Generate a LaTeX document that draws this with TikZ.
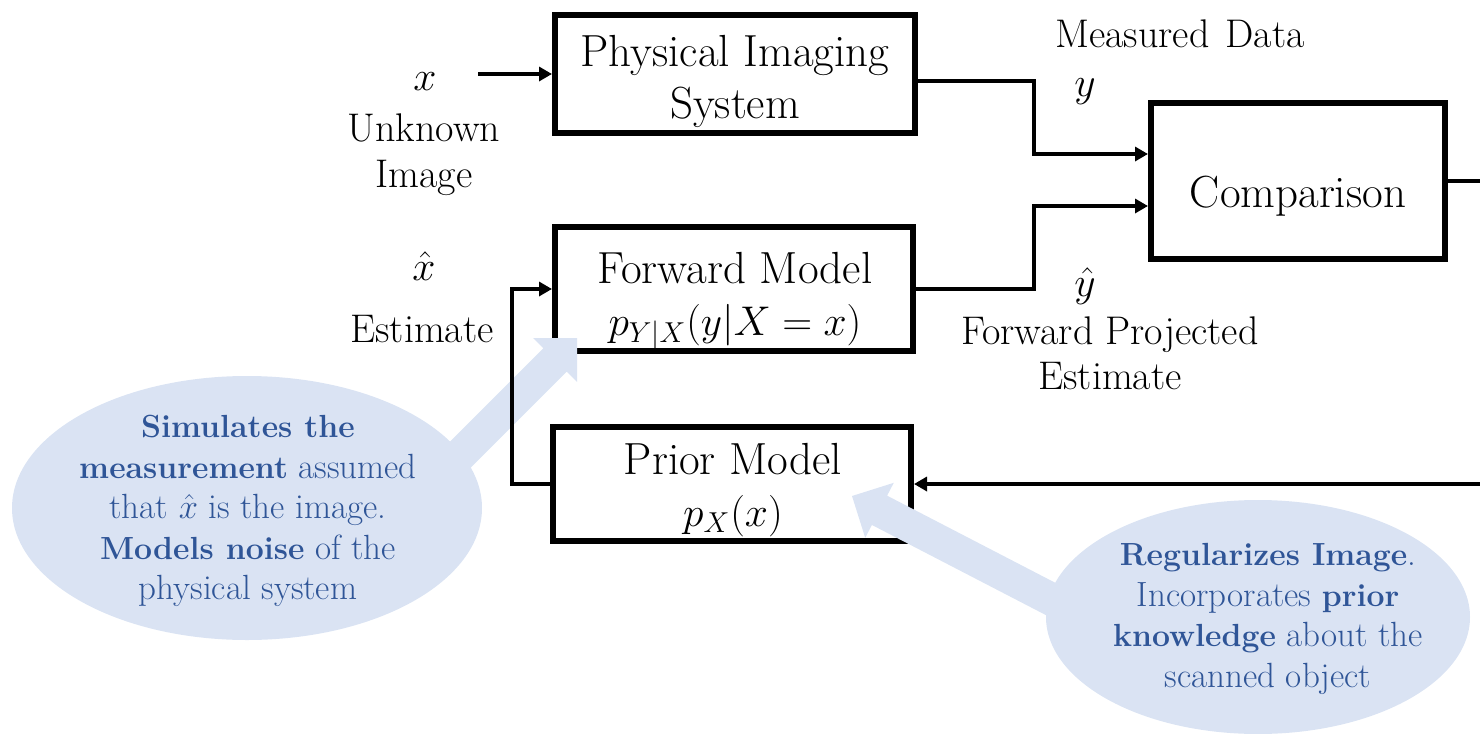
\documentclass[tikz,border=0pt]{standalone}
\usepackage{fontspec}
\usetikzlibrary{arrows.meta,shapes.geometric}
\definecolor{calloutfill}{HTML}{DAE3F3}
\definecolor{callouttext}{HTML}{2F5597}
\newcommand\myboxfont{\fontsize{22.5}{26}\selectfont}
\newcommand\mylblfont{\fontsize{20}{26}\selectfont}
\newcommand\mycallfont{\fontsize{17.5}{20.25}\selectfont}
\newcommand\cbold[1]{{\fontsize{16}{20.25}\selectfont\bfseries #1}}
\tikzset{
  boxshape/.style={draw, line width=3pt, inner sep=0pt},
  boxtext/.style={align=center, font=\myboxfont, inner sep=0pt},
  conn/.style={line width=2.25pt, -{Triangle[length=6.5pt,width=7pt]}},
  plainline/.style={line width=2.25pt},
  lbl/.style={font=\mylblfont, inner sep=0pt, anchor=base},
  callout/.style={fill=calloutfill, draw=none, ellipse, inner sep=0pt},
  ctext/.style={text=callouttext, font=\mycallfont, align=center, inner sep=0pt},
}
\begin{document}
\begin{tikzpicture}[x=0.5pt,y=-0.5pt]
\useasboundingbox (0,0) rectangle (1480,734);
\clip (0,0) rectangle (1480,734);
% boxes
\node[boxshape, minimum width=180pt, minimum height=59pt] (phys) at (735,74) {};
\node[boxshape, minimum width=179pt, minimum height=62pt] (fwd) at (734,289) {};
\node[boxshape, minimum width=179pt, minimum height=57pt] (prior) at (732,484) {};
\node[boxshape, minimum width=147pt, minimum height=78pt] (comp) at (1298,181) {};
\node[boxtext] (physT) at (735,81) {Physical Imaging\\System};
\node[boxtext] (fwdT) at (735,301) {Forward Model\\$p_{Y|X}(y|X=x)$};
\node[boxtext] (priorT) at (733,490) {Prior Model\\$p_X(x)$};
\node[boxtext] (compT) at (1298,196) {Comparison};
% labels
\node[lbl] (xl) at (425,90) {$x$};
\node[lbl] (unk) at (424,141) {Unknown};
\node[lbl] (img) at (424,187) {Image};
\node[lbl] (xh) at (424,280) {$\hat{x}$};
\node[lbl] (est) at (422,342) {Estimate};
\node[lbl] (meas) at (1180,47) {Measured\hspace{0.4em}Data};
\node[lbl] (yl) at (1085,96) {$y$};
\node[lbl] (yh) at (1085,296) {$\hat{y}$};
\node[lbl] (fp) at (1110,344) {Forward Projected};
\node[lbl] (est2) at (1110,389) {Estimate};
% callouts
\node[callout, minimum width=235pt, minimum height=132pt] (c1) at (247,508) {};
\node[callout, minimum width=212pt, minimum height=117pt] (c2) at (1258,617) {};
\fill[calloutfill] (423.2,468.4) -- (543.4,348.2) -- (533.2,338) -- (577,338) -- (577,381.8) -- (566.8,371.6) -- (446.6,491.8) -- cycle;
\fill[calloutfill] (1085,635.35) -- (871.9,524.95) -- (865.2,537.8) -- (852,496) -- (893.8,482.8) -- (887.1,495.65) -- (1100.2,606.05) -- cycle;
\node[ctext] (t1) at (248,511) {\cbold{Simulates the}\\\cbold{measurement} assumed\\that $\hat{x}$ is the image.\\\cbold{Models noise} of the\\physical system};
\node[ctext] (t2) at (1268,619) {\cbold{Regularizes Image}.\\Incorporates \cbold{prior}\\\cbold{knowledge} about the\\scanned object};
% connectors
\coordinate (xin) at (478,74);
\coordinate (cout) at (1480,181);
\coordinate (fb) at (1480,484);
\draw[conn] (xin) -- (phys.west);
\draw[conn] ([yshift=-3.5pt]phys.east) -- ++(116,0) |- ([yshift=13.5pt]comp.west);
\draw[conn] (fwd.east) -- ++(118,0) |- ([yshift=-12.5pt]comp.west);
\draw[plainline] (comp.east) -- (cout);
\draw[conn] (fb) -- (prior.east);
\draw[conn] (prior.west) -- ++(-38,0) |- (fwd.west);
\end{tikzpicture}
\end{document}
